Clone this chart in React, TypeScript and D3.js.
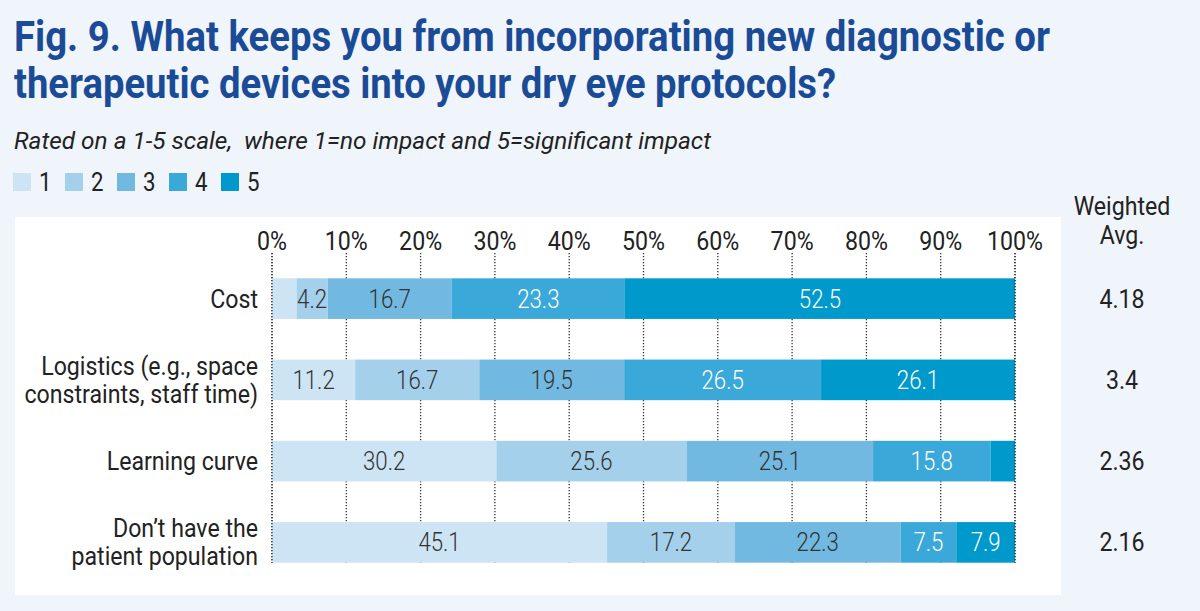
import React, { useEffect, useRef } from 'react';
import * as d3 from 'd3';

const categories = ['Cost', 'Logistics', 'Learning curve', 'Patient population'];
const categoryLines = [
  ['Cost'],
  ['Logistics (e.g., space', 'constraints, staff time)'],
  ['Learning curve'],
  ['Don\u2019t have the', 'patient population'],
];
const ratings = ['1', '2', '3', '4', '5'];
// share of responses per rating, in percent
const r1 = [3.3, 11.2, 30.2, 45.1];
const r2 = [4.2, 16.7, 25.6, 17.2];
const r3 = [16.7, 19.5, 25.1, 22.3];
const r4 = [23.3, 26.5, 15.8, 7.5];
const r5 = [52.5, 26.1, 3.3, 7.9];
// which segments carry a printed value
const showLabel = [
  [false, true, true, true, true],
  [true, true, true, true, true],
  [true, true, true, true, false],
  [true, true, true, true, true],
];
const weightedAvg = ['4.18', '3.4', '2.36', '2.16'];
const ticks = [0, 10, 20, 30, 40, 50, 60, 70, 80, 90, 100];

const colors = ['#cde4f4', '#a4d0ec', '#72b9e1', '#3aa9d9', '#0099cc'];
const SX = 0.89; // fake a condensed face by squeezing Roboto

type G = d3.Selection<any, unknown, null, undefined>;

// text squeezed horizontally around its anchor point
function label(parent: G, x: number, y: number, t: string, size: number, opts: any = {}) {
  return parent.append('text')
    .attr('transform', `translate(${x},${y}) scale(${SX},1)`)
    .attr('text-anchor', opts.anchor || 'start')
    .attr('font-size', size)
    .attr('font-weight', opts.weight || 400)
    .attr('fill', opts.fill || '#222')
    .text(t);
}

export default function App() {
  const svgRef = useRef<SVGSVGElement>(null);

  useEffect(() => {
    document.body.style.margin = '0';
    if (!svgRef.current) return;
    const svg = d3.select(svgRef.current);
    svg.selectAll('*').remove();

    const W = 1200, H = 611;
    svg.attr('width', W).attr('height', H)
      .style('display', 'block')
      .style('font-family', 'Roboto, sans-serif');

    svg.append('rect').attr('width', W).attr('height', H).attr('fill', '#eff5fb');

    // title
    const titleLines = [
      'Fig. 9. What keeps you from incorporating new diagnostic or',
      'therapeutic devices into your dry eye protocols?',
    ];
    const titleW = [1036, 822];
    titleLines.forEach((t, i) => {
      svg.append('text')
        .attr('x', 14).attr('y', 51 + i * 47)
        .attr('fill', '#1b4b96')
        .attr('font-size', 43).attr('font-weight', 700)
        .attr('textLength', titleW[i]).attr('lengthAdjust', 'spacingAndGlyphs')
        .text(t);
    });

    svg.append('text')
      .attr('x', 14).attr('y', 149)
      .attr('fill', '#222').attr('font-size', 23).attr('font-style', 'italic')
      .style('white-space', 'pre')
      .attr('textLength', 697).attr('lengthAdjust', 'spacingAndGlyphs')
      .text('Rated on a 1-5 scale,  where 1=no impact and 5=significant impact');

    // legend
    const legend = svg.append('g');
    ratings.forEach((r, i) => {
      const g = legend.append('g').attr('transform', `translate(${13 + i * 52},173)`);
      g.append('rect').attr('width', 18).attr('height', 18).attr('fill', colors[i]);
      label(g, 26, 18, r, 25);
    });

    // plot panel
    svg.append('rect').attr('x', 15).attr('y', 217).attr('width', 1046).attr('height', 378)
      .attr('fill', '#fff');

    const x = d3.scaleLinear().domain([0, 100]).range([272, 1015]);
    const y = d3.scaleBand<string>().domain(categories).range([258, 583])
      .paddingInner(0.5).paddingOuter(0.25);
    const gridBottom = (y(categories[3]) ?? 0) + y.bandwidth();

    // grid
    const grid = svg.append('g');
    grid.selectAll('line').data(ticks).join('line')
      .attr('x1', d => x(d)).attr('x2', d => x(d))
      .attr('y1', 253).attr('y2', gridBottom)
      .attr('stroke', '#333').attr('stroke-width', 1.3).attr('stroke-dasharray', '1.3 1.7');
    ticks.forEach(t => label(grid, x(t), 250, `${t}%`, 26, { anchor: 'middle' }));

    const series = [r1, r2, r3, r4, r5];
    const rows = categories.map((c, ci) => {
      let acc = 0;
      return series.map((s, si) => {
        const seg = { cat: c, ci, si, x0: acc, x1: acc + s[ci], v: s[ci] };
        acc += s[ci];
        return seg;
      });
    }).flat();

    const bars = svg.append('g');
    bars.selectAll('rect').data(rows).join('rect')
      .attr('x', d => x(d.x0)).attr('width', d => x(d.x1) - x(d.x0))
      .attr('y', d => y(d.cat) ?? 0).attr('height', y.bandwidth())
      .attr('fill', d => colors[d.si]);

    // 0% and 100% dotted lines show over the bar ends
    bars.selectAll('line').data([0, 100]).join('line')
      .attr('x1', d => x(d)).attr('x2', d => x(d))
      .attr('y1', 253).attr('y2', gridBottom)
      .attr('stroke', '#333').attr('stroke-width', 1.3).attr('stroke-dasharray', '1.3 1.7');

    rows.filter(d => showLabel[d.ci][d.si]).forEach(d => {
      label(bars, (x(d.x0) + x(d.x1)) / 2, (y(d.cat) ?? 0) + y.bandwidth() / 2 + 9,
        d.v.toFixed(1), 25, { anchor: 'middle', weight: 300, fill: d.si >= 3 ? '#fff' : '#333' });
    });

    // category labels and weighted averages
    categories.forEach((c, ci) => {
      const lines = categoryLines[ci];
      const cy = (y(c) ?? 0) + y.bandwidth() / 2;
      lines.forEach((l, li) => {
        label(svg, 258, cy + 9 + (li - (lines.length - 1) / 2) * 28, l, 26, { anchor: 'end' });
      });
      label(svg, 1122, cy + 9, weightedAvg[ci], 26, { anchor: 'middle' });
    });

    ['Weighted', 'Avg.'].forEach((t, i) => {
      label(svg, 1122, 215 + i * 29, t, 26, { anchor: 'middle' });
    });
  }, []);

  return <svg ref={svgRef}></svg>;
}
